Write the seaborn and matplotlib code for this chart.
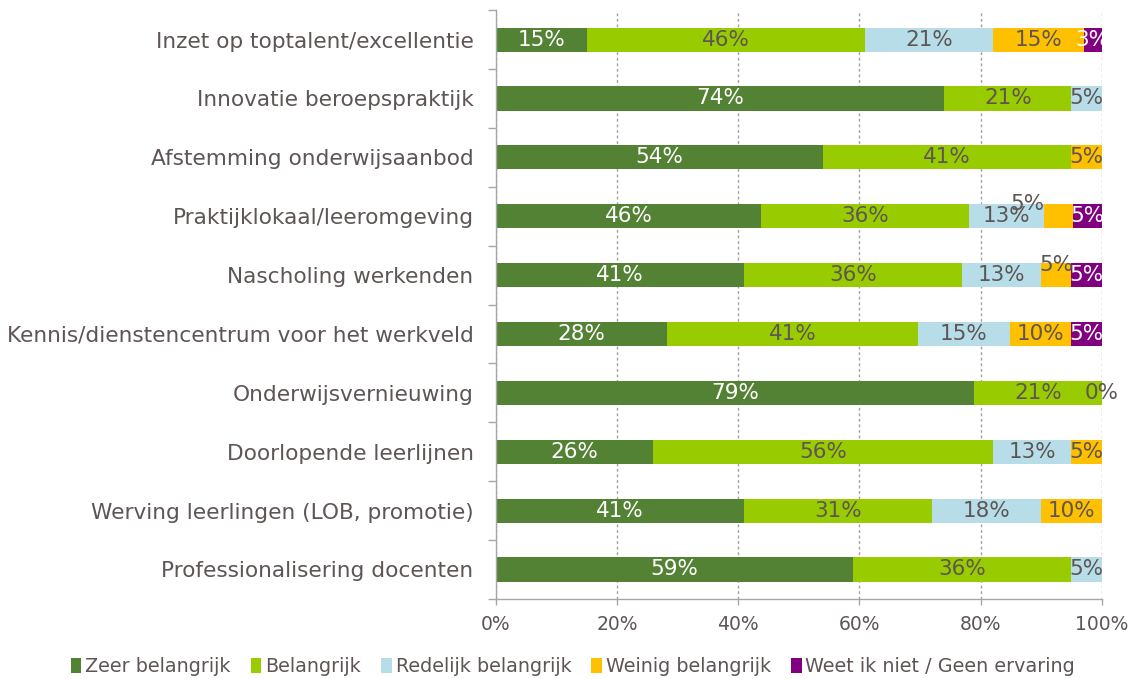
import numpy as np
import pandas as pd
import matplotlib.pyplot as plt
import seaborn as sns
from matplotlib.patches import Patch

categories = [
    "Inzet op toptalent/excellentie",
    "Innovatie beroepspraktijk",
    "Afstemming onderwijsaanbod",
    "Praktijklokaal/leeromgeving",
    "Nascholing werkenden",
    "Kennis/dienstencentrum voor het werkveld",
    "Onderwijsvernieuwing",
    "Doorlopende leerlijnen",
    "Werving leerlingen (LOB, promotie)",
    "Professionalisering docenten",
]
series = ["Zeer belangrijk", "Belangrijk", "Redelijk belangrijk",
          "Weinig belangrijk", "Weet ik niet / Geen ervaring"]

# percentages as labelled (None = no label / no segment)
zeer = [15, 74, 54, 46, 41, 28, 79, 26, 41, 59]
belangrijk = [46, 21, 41, 36, 36, 41, 21, 56, 31, 36]
redelijk = [21, 5, None, 13, 13, 15, 0, 13, 18, 5]
weinig = [15, None, 5, 5, 5, 10, None, 5, 10, None]
weet_niet = [3, None, None, 5, 5, 5, None, None, None, None]

colors = ["#548235", "#99cc00", "#b7dee8", "#ffc000", "#800080"]
grey = "#5e5555"
label_colors = ["white", grey, grey, grey, "white"]

df = pd.DataFrame(
    {s: v for s, v in zip(series, [zeer, belangrijk, redelijk, weinig, weet_niet])},
    index=categories,
).astype(float)
vals = df.fillna(0)
shares = vals.div(vals.sum(axis=1), axis=0) * 100
cum = shares.cumsum(axis=1)

sns.set_style("white")
plt.rcParams["font.family"] = ["DejaVu Sans"]

fig, ax = plt.subplots(figsize=(11.37, 6.79), dpi=100)
fig.subplots_adjust(left=0.436, right=0.969, top=0.985, bottom=0.118)

ax.set_axisbelow(True)
ax.grid(axis="x", linestyle=(0, (2, 2)), color="#a0a0a0", linewidth=1)

# stacked bars: draw cumulative totals from outermost to innermost
for i in reversed(range(len(series))):
    d = pd.DataFrame({"cat": categories, "val": cum.iloc[:, i].values})
    sns.barplot(data=d, x="val", y="cat", order=categories, orient="h",
                color=colors[i], saturation=1, width=0.41, linewidth=0, ax=ax)

# label offsets in pixels for a few crowded labels
offsets = {(3, 3): (-31, 12), (4, 3): (0, 10)}
for j in range(len(categories)):
    for i in range(len(series)):
        v = df.iloc[j, i]
        if np.isnan(v):
            continue
        xc = cum.iloc[j, i] - shares.iloc[j, i] / 2
        dx, dy = offsets.get((j, i), (0, 0))
        ax.annotate(f"{int(v)}%", (xc, j), xytext=(dx * 0.72, dy * 0.72),
                    textcoords="offset points", ha="center", va="center",
                    fontsize=15.5, color=label_colors[i])

ax.set_xlim(0, 100)
ax.set_ylim(9.5, -0.5)
ax.set_xticks(range(0, 101, 20))
ax.set_xticklabels([f"{t}%" for t in range(0, 101, 20)])
ax.set_xlabel("")
ax.set_ylabel("")

ax.set_yticks(range(len(categories)))
ax.set_yticklabels(categories)
ax.set_yticks(np.arange(-0.5, len(categories), 1), minor=True)
ax.tick_params(axis="y", which="major", length=0, pad=16, labelsize=15.6,
               labelcolor=grey)
ax.tick_params(axis="y", which="minor", length=5.5, width=1, color="#a6a6a6",
               direction="out", left=True)
ax.tick_params(axis="x", length=4.5, width=1, color="#a6a6a6", direction="out",
               bottom=True, labelsize=13.5, labelcolor=grey, pad=7)

for side in ["top", "right"]:
    ax.spines[side].set_visible(False)
for side in ["left", "bottom"]:
    ax.spines[side].set_color("#a6a6a6")
    ax.spines[side].set_linewidth(1)

handles = [Patch(facecolor=c, edgecolor="none") for c in colors]
fig.legend(handles, series, loc="center", bbox_to_anchor=(0.504, 0.018),
           ncol=5, frameon=False, fontsize=13.8, handlelength=0.55,
           handleheight=0.8, handletextpad=0.2, columnspacing=1.05,
           labelcolor=grey)

fig.savefig("out.png", dpi=100)
